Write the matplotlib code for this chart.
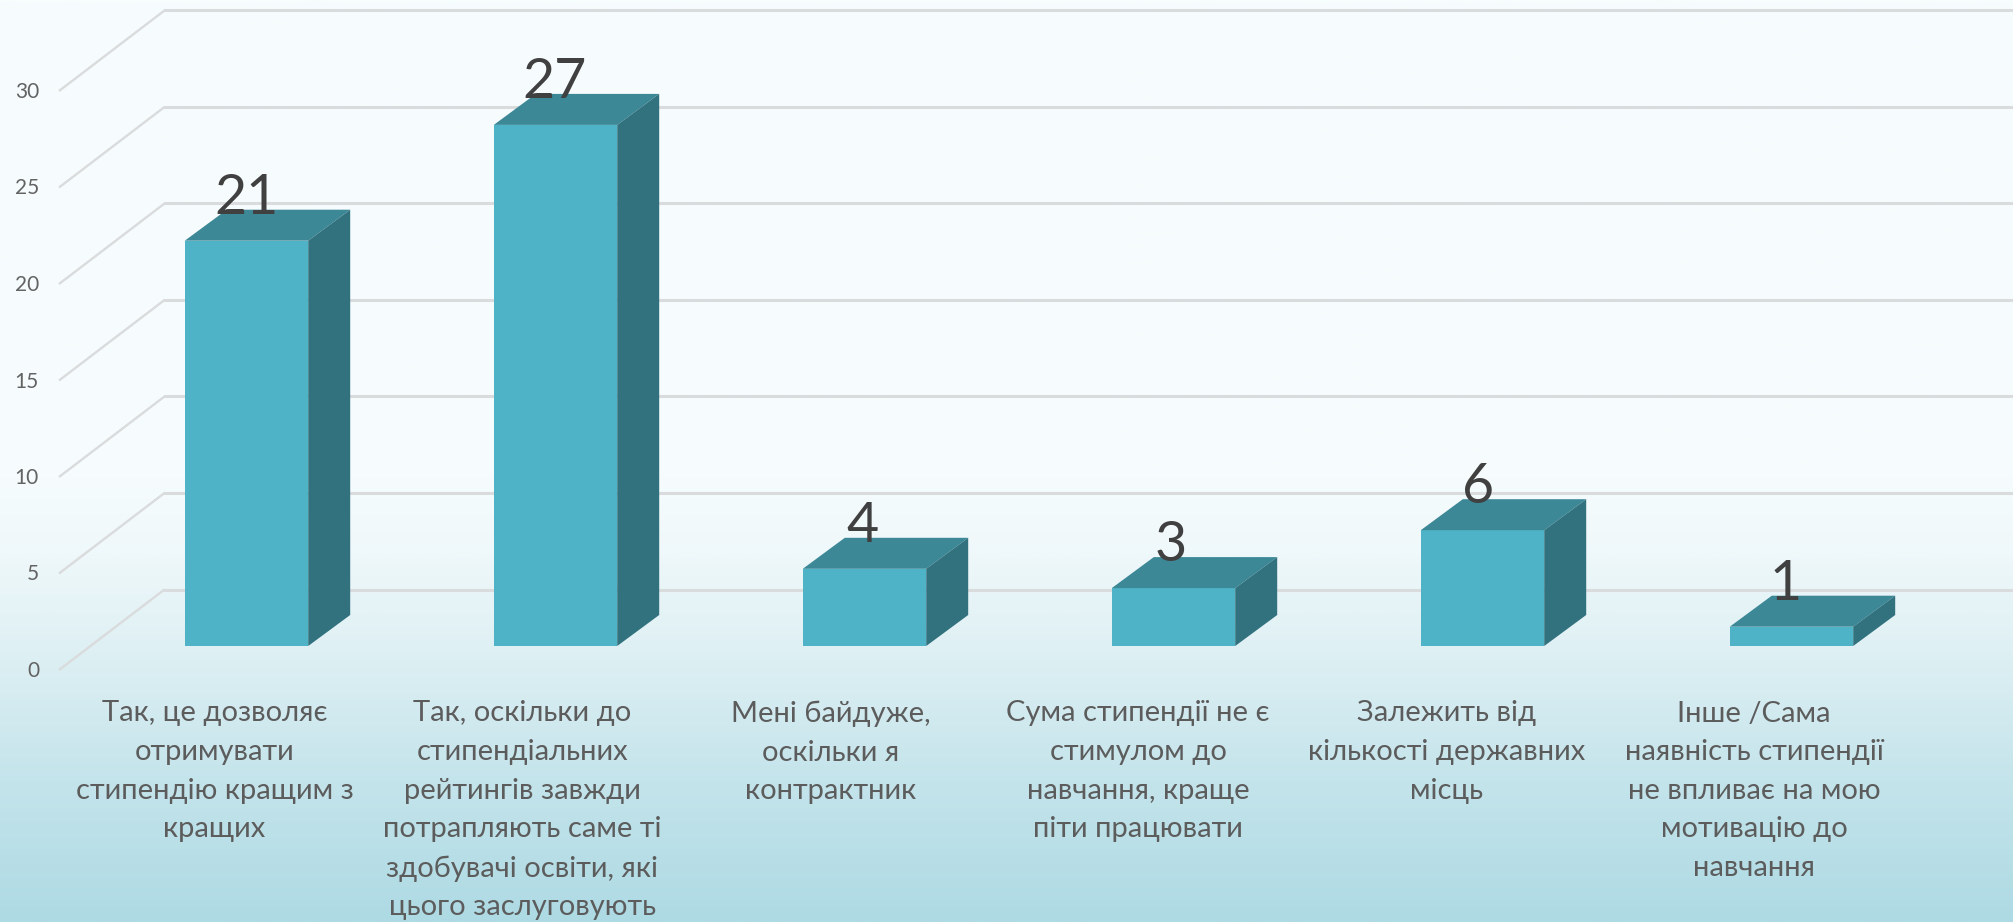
import numpy as np
import matplotlib
matplotlib.use("Agg")
import matplotlib.pyplot as plt
from matplotlib.colors import LinearSegmentedColormap

categories = [
    "Так, це дозволяє\nотримувати\nстипендію кращим з\nкращих",
    "Так, оскільки до\nстипендіальних\nрейтингів завжди\nпотрапляють саме ті\nздобувачі освіти, які\nцього заслуговують",
    "Мені байдуже,\nоскільки я\nконтрактник",
    "Сума стипендії не є\nстимулом до\nнавчання, краще\nпіти працювати",
    "Залежить від\nкількості державних\nмісць",
    "Інше /Сама\nнаявність стипендії\nне впливає на мою\nмотивацію до\nнавчання",
]
values = [21, 27, 4, 3, 6, 1]
y_ticks = [0, 5, 10, 15, 20, 25, 30]

# pixel layout of the reference, turned into data units below
W, H = 2013, 922
px_x = 309.0    # one category
px_y = 19.3     # one unit of value
x0 = 246.5      # centre of first bar
y0 = 646.0      # foot of the bars
depth_x = 42 / px_x
depth_y = 31 / px_y
bar_w = 123.4 / px_x
text_step = 0.9965  # texts sit a bit tighter than the bars

plt.rcParams['font.family'] = ['Lato', 'Open Sans', 'DejaVu Sans']

fig = plt.figure(figsize=(W / 100, H / 100), dpi=100)

bg = fig.add_axes([0, 0, 1, 1], zorder=0)
cmap = LinearSegmentedColormap.from_list("bg", [
    (0.0, "#f7fdfd"), (0.52, "#f6fcfd"), (0.60, "#eff8fa"), (0.72, "#dceff3"),
    (0.85, "#c4e4eb"), (1.0, "#aedae4")])
bg.imshow(np.linspace(0, 1, 400)[:, None], aspect="auto", cmap=cmap, vmin=0, vmax=1)
bg.axis("off")

ax = fig.add_axes([0, 0, 1, 1], zorder=1)
ax.patch.set_alpha(0)
ax.set_xlim(-x0 / px_x, (W - x0) / px_x)
ax.set_ylim((y0 - H) / px_y, y0 / px_y)
ax.axis("off")

# floor/wall lines
front_x, back_x = (59 - x0) / px_x, (164.5 - x0) / px_x
front_y, back_y = (y0 - 670) / px_y, (y0 - 589.5) / px_y
x_right = ax.get_xlim()[1]
for t in y_ticks:
    ax.plot([front_x, back_x], [t + front_y, t + back_y], color="#d9dbdc", lw=1.7, zorder=1,
            solid_capstyle="butt")
    ax.plot([back_x, x_right], [t + back_y, t + back_y], color="#d9dbdd", lw=2.2, zorder=1)
    ax.text(front_x - 20 / px_x, t + front_y - 1 / px_y, str(t), ha="right", va="center",
            fontsize=15, color="#636363")

xs = np.arange(len(values))
ax.bar(xs, values, width=bar_w, color="#4fb3c8", zorder=3)
for x, v in zip(xs, values):
    l, r = x - bar_w / 2, x + bar_w / 2
    ax.fill([l, r, r + depth_x, l + depth_x], [v, v, v + depth_y, v + depth_y],
            color="#3c8897", lw=0, zorder=3)
    ax.fill([r, r + depth_x, r + depth_x, r], [0, depth_y, v + depth_y, v],
            color="#31727e", lw=0, zorder=3)
    ax.text(x * text_step, v + 27 / px_y, str(v), ha="center", va="baseline",
            fontsize=40, color="#404040", zorder=4)

label_top = (y0 - 700.5) / px_y
for x, c in zip(xs, categories):
    ax.text(x * text_step - 32 / px_x, label_top, c, ha="center", va="top", fontsize=21,
            color="#5c5c5c", linespacing=1.6)

fig.savefig("out.png", dpi=100)
